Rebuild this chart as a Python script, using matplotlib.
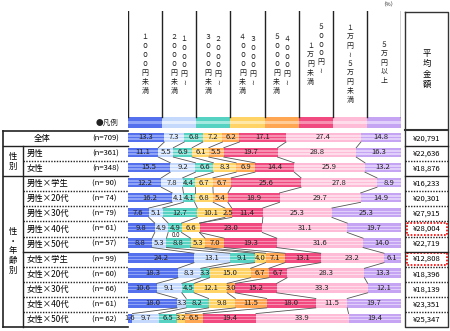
import numpy as np
import matplotlib
matplotlib.use('Agg')
import matplotlib.pyplot as plt
from matplotlib.patches import Rectangle

plt.rcParams['font.family'] = ['Noto Sans CJK JP', 'DejaVu Sans']

# --- data ---
categories = ['1000円未満', '1000円～2000円未満', '2000円～3000円未満', '3000円～4000円未満',
              '4000円～5000円未満', '5000円～1万円未満', '1万円～5万円未満', '5万円以上']
rows = ['全体', '男性', '女性', '男性×学生', '男性×20代', '男性×30代', '男性×40代', '男性×50代',
        '女性×学生', '女性×20代', '女性×30代', '女性×40代', '女性×50代']
n_counts = [709, 361, 348, 90, 74, 79, 61, 57, 99, 60, 66, 61, 62]

under_1000 = [13.3, 11.1, 15.5, 12.2, 16.2, 7.6, 9.8, 8.8, 24.2, 18.3, 10.6, 18.0, 1.6]
y1000_2000 = [7.3, 5.5, 9.2, 7.8, 4.1, 5.1, 4.9, 5.3, 13.1, 8.3, 9.1, 3.3, 9.7]
y2000_3000 = [6.8, 6.9, 6.6, 4.4, 4.1, 12.7, 4.9, 8.8, 9.1, 3.3, 4.5, 8.2, 6.5]
y3000_4000 = [7.2, 6.1, 8.3, 6.7, 6.8, 10.1, 6.6, 5.3, 4.0, 15.0, 12.1, 9.8, 3.2]
y4000_5000 = [6.2, 5.5, 6.9, 6.7, 5.4, 2.5, 0.0, 7.0, 7.1, 6.7, 3.0, 11.5, 6.5]
y5000_10k = [17.1, 19.7, 14.4, 25.6, 18.9, 11.4, 23.0, 19.3, 13.1, 6.7, 15.2, 18.0, 19.4]
y10k_50k = [27.4, 28.8, 25.9, 27.8, 29.7, 25.3, 31.1, 31.6, 23.2, 28.3, 33.3, 11.5, 33.9]
over_50k = [14.8, 16.3, 13.2, 8.9, 14.9, 25.3, 19.7, 14.0, 6.1, 13.3, 12.1, 19.7, 19.4]

averages = ['¥20,791', '¥22,636', '¥18,876', '¥16,233', '¥20,301', '¥27,915', '¥28,004',
            '¥22,719', '¥12,808', '¥18,396', '¥18,139', '¥23,351', '¥25,347']
highlight = ['男性×40代', '女性×学生']

series = [under_1000, y1000_2000, y2000_3000, y3000_4000, y4000_5000, y5000_10k, y10k_50k, over_50k]
colors = ['#5470ec', '#c4d9fb', '#55d2c2', '#ffd366', '#ffa652', '#f04a80', '#ffbcd6', '#c5a4f4']
lights = ['#8fa4f6', '#e6effe', '#a3e9df', '#ffe7a8', '#ffcb97', '#f78fb0', '#ffdcea', '#e0cffa']

W, H = 450, 331
fig = plt.figure(figsize=(4.5, 3.31), dpi=100)


def box(x0, y0, x1, y1):
    return [x0 / W, 1 - y1 / H, (x1 - x0) / W, (y1 - y0) / H]


ov = fig.add_axes([0, 0, 1, 1])
ov.set_xlim(0, W)
ov.set_ylim(H, 0)
ov.axis('off')

top, bot = 131, 327
nr = len(rows)
rh = (bot - top) / nr

ax = fig.add_axes(box(128, top, 401, bot))
ax.set_xlim(0, 100)
ax.set_ylim(nr, 0)
ax.axis('off')

hd = fig.add_axes(box(128, 11, 401, 128))
hd.set_xlim(0, 8)
hd.set_ylim(128, 11)
hd.axis('off')

# --- bars ---
vals = np.array(series)
cum = np.vstack([np.zeros(nr), np.cumsum(vals, axis=0)])
yc = np.arange(nr) + 0.42
bh = 0.62
for k in range(len(series)):
    ax.barh(yc, vals[k], left=cum[k], height=bh, color=colors[k], linewidth=0)
    for off in (-0.1, 0.1):
        ax.barh(yc + off, vals[k], left=cum[k], height=0.09, color=lights[k], linewidth=0)
    for i in range(nr):
        v = vals[k, i]
        xc = cum[k, i] + v / 2
        if v < 1:
            # tiny share: label pulled out to the left, in the gap under the bar
            ax.text(xc - 8.5, i + 0.93, f'{v:.1f}', ha='center', va='center', fontsize=4.5,
                    color='#222')
        else:
            ax.text(xc, yc[i], f'{v:.1f}', ha='center', va='center', fontsize=5.5, color='#222')

for i in range(nr - 1):
    for k in range(1, len(series)):
        ax.plot([cum[k, i], cum[k, i + 1]], [yc[i] + bh / 2, yc[i + 1] - bh / 2],
                color='#555', lw=0.6)

# --- header ---
fw = str.maketrans('0123456789～', '０１２３４５６７８９≀')


def vert(s):
    return '\n'.join(s.translate(fw))


for j in range(len(series) + 1):
    hd.plot([j, j], [11, 117], color='#222', lw=1)
for j in range(len(series)):
    hd.bar(j + 0.5, 11, bottom=117, width=1, color=colors[j], linewidth=0)
    hd.bar(j + 0.5, 2.5, bottom=121, width=1, color=lights[j], linewidth=0)

col = 1 / 34.1
header_cols = [
    [(0, 64, '1000円未満')],
    [(5, 61, '1000円～'), (-5, 64, '2000円未満')],
    [(5, 61, '2000円～'), (-5, 64, '3000円未満')],
    [(5, 61, '3000円～'), (-5, 64, '4000円未満')],
    [(5, 61, '4000円～'), (-5, 64, '5000円未満')],
    [(5, 49, '5000円～'), (-5, 64, '1万円未満')],
    [(0, 64, '1万円～5万円未満')],
    [(0, 63, '5万円以上')],
]
for j, parts in enumerate(header_cols):
    for dx, ycen, s in parts:
        hd.text(j + 0.5 + dx * col, ycen, vert(s), ha='center', va='center',
                fontsize=5, linespacing=1.15, color='#222')

ov.text(119, 123, '●凡例', ha='right', va='center', fontsize=5.5, color='#222')
ov.text(388, 5, '（%）', ha='center', va='center', fontsize=4, color='#222')

# --- left table ---
def rowc(i):
    return top + (i + 0.5) * rh


ov.text(42, rowc(0), rows[0], ha='center', va='center', fontsize=6)
for i in range(nr):
    if i > 0:
        ov.text(27, rowc(i), rows[i], ha='left', va='center', fontsize=6)
    ov.text(92, rowc(i), f'(n={n_counts[i]:3d})', ha='left', va='center', fontsize=5.5)

ov.text(13, top + 2 * rh, '性\n別', ha='center', va='center', fontsize=6, linespacing=1.1)
ov.text(13, top + 7.95 * rh, '性\n・\n年\n齢\n別', ha='center', va='center', fontsize=6,
        linespacing=1.1)

lc = '#222'
ov.plot([3, 128], [top, top], color=lc, lw=1.2)
ov.plot([3, 128], [bot, bot], color=lc, lw=1.2)
ov.plot([3, 3], [top, bot], color=lc, lw=1.2)
ov.plot([23, 23], [top + rh, bot], color=lc, lw=1)
for b in range(1, nr):
    yb = top + b * rh
    if b in (1, 3):
        ov.plot([3, 128], [yb, yb], color=lc, lw=1)
    elif b == 8:
        ov.plot([23, 128], [yb, yb], color=lc, lw=1)
    else:
        ov.plot([23, 128], [yb, yb], color=lc, lw=1, ls=(0, (1, 1)))

# --- average column ---
ov.plot([405, 448, 448, 405, 405], [12, 12, bot, bot, 12], color='#333', lw=1)
ov.plot([405, 448], [top - 1, top - 1], color='#333', lw=1.5)
ov.text(426.5, 69, '平\n均\n金\n額', ha='center', va='center', fontsize=6, linespacing=1.15)
for b in range(1, nr):
    yb = top + b * rh
    if b in (1, 3, 8):
        ov.plot([405, 448], [yb, yb], color=lc, lw=1)
    else:
        ov.plot([405, 448], [yb, yb], color=lc, lw=1, ls=(0, (1, 1)))
for i in range(nr):
    ov.text(426.5, rowc(i), averages[i], ha='center', va='center', fontsize=5.5)
    if rows[i] in highlight:
        ov.add_patch(Rectangle((407, top + i * rh + 1.5), 40, rh - 3, fill=False,
                               edgecolor='red', lw=1.2, ls=(0, (1, 1))))

fig.savefig('out.png', dpi=100)
